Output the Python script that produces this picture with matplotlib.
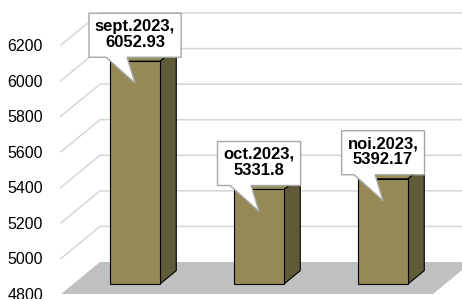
import matplotlib
matplotlib.use("Agg")
import matplotlib.pyplot as plt
from matplotlib.patches import Polygon
from matplotlib.lines import Line2D
from matplotlib.transforms import IdentityTransform
import numpy as np

plt.rcParams['font.family'] = ['Liberation Sans', 'DejaVu Sans']

months = ["sept.2023", "oct.2023", "noi.2023"]
values = [6052.93, 5331.8, 5392.17]
yticks = [4800, 5000, 5200, 5400, 5600, 5800, 6000, 6200]

W, H = 462, 299
fig = plt.figure(figsize=(W / 100, H / 100), dpi=100)
ax = fig.add_axes([61 / W, 5 / H, 372 / W, 249 / H])
ax.set_xlim(-0.5, 2.5)
ax.set_ylim(yticks[0], yticks[-1])
ax.set_autoscale_on(False)
ax.set_xticks([])
ax.set_yticks(yticks)
ax.tick_params(axis='y', length=0, pad=13, labelsize=11.5)
for s in ax.spines.values():
    s.set_visible(False)
ax.patch.set_visible(False)

# pseudo 3d: depth offset of the floor in pixels
DEPTH = np.array([39.0, 32.0])
ident = IdentityTransform()


def P(x, v, d):
    return ax.transData.transform((x, v)) + d * DEPTH


def poly(pts, **kw):
    ax.add_patch(Polygon(pts, closed=True, transform=ident, clip_on=False, **kw))


base = yticks[0]
poly([P(-0.5, base, 0), P(2.5, base, 0), P(2.5, base, 1), P(-0.5, base, 1)],
     fc='#c0c0c0', ec='none', zorder=1)

for v in yticks[1:]:
    pts = np.array([P(-0.5, v, 0), P(-0.5, v, 1), P(3.0, v, 1)])
    ax.add_line(Line2D(pts[:, 0], pts[:, 1], transform=ident, color='#d6d6d6',
                       lw=1.1, clip_on=False, zorder=2))

bw = 0.2
df, db = 0.31, 0.73
fig.canvas.draw()
renderer = fig.canvas.get_renderer()
for i, (m, v) in enumerate(zip(months, values)):
    poly([P(i + bw, base, df), P(i + bw, base, db), P(i + bw, v, db), P(i + bw, v, df)],
         fc='#5f5a37', ec='black', lw=0.8, zorder=3)
    poly([P(i - bw, v, df), P(i + bw, v, df), P(i + bw, v, db), P(i - bw, v, db)],
         fc='#9a9058', ec='black', lw=0.8, zorder=3)
    poly([P(i - bw, base, df), P(i + bw, base, df), P(i + bw, v, df), P(i - bw, v, df)],
         fc='#958a55', ec='black', lw=0.8, zorder=4)

    cx, top = P(i, v, df)
    cy = top + 26
    t = ax.text(cx, cy + 1, f"{m},\n{v}", transform=ident, ha='center', va='center',
                fontsize=12, fontweight='bold', linespacing=1.12, zorder=6)
    bb = t.get_window_extent(renderer)
    hw = bb.width / 2 + 6
    L, R, B, T = cx - hw, cx + hw, cy - 22, cy + 22
    poly([(L, B), (cx - 29, B), (cx, top - 22), (cx - 8, B), (R, B), (R, T), (L, T)],
         fc='white', ec='#a6a6a6', lw=1.0, zorder=5)

fig.savefig("out.png", dpi=100)
